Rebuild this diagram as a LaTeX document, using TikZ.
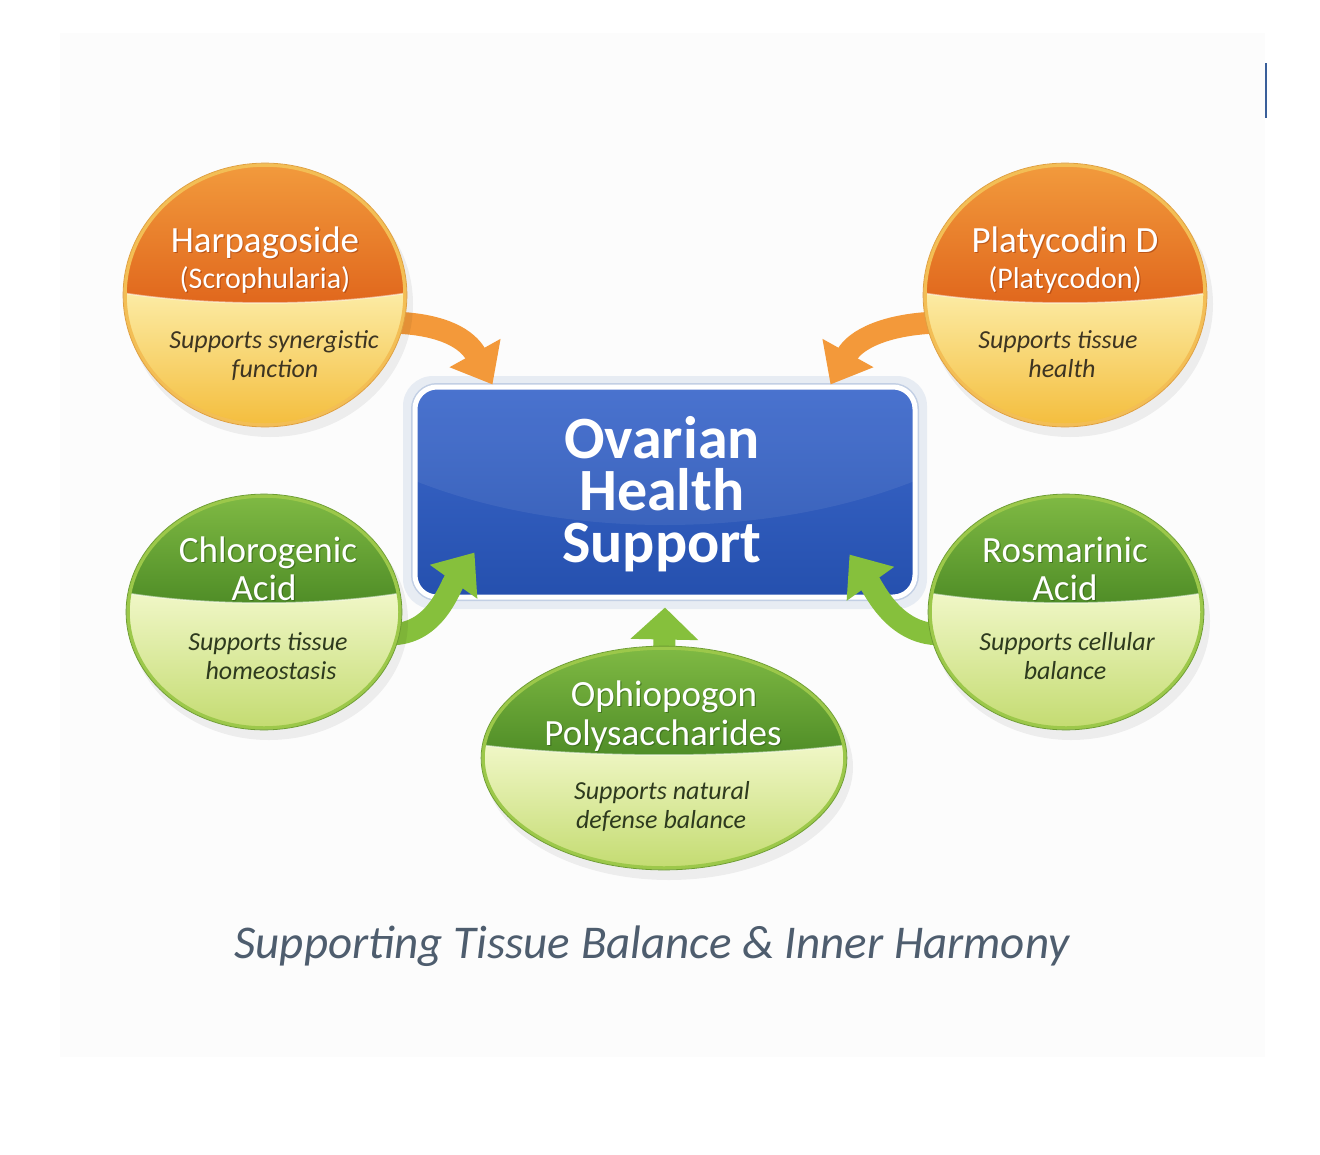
\documentclass[tikz,border=0pt]{standalone}
\usepackage{fontspec}
\setmainfont{Carlito}
\usetikzlibrary{shapes.geometric,arrows.meta,calc}
\pgfdeclarelayer{bg}
\pgfdeclarelayer{boxl}
\pgfdeclarelayer{arr}
\pgfsetlayers{bg,boxl,arr,main}
\definecolor{ortopA}{HTML}{F29B3D}
\definecolor{ortopB}{HTML}{E0661C}
\definecolor{orbotA}{HTML}{FCEDA8}
\definecolor{orbotB}{HTML}{F4BD3C}
\definecolor{oredge}{HTML}{F3BE55}
\definecolor{orrim}{HTML}{E0A040}
\definecolor{orsh}{HTML}{9A3A0C}
\definecolor{grtopA}{HTML}{80BA44}
\definecolor{grtopB}{HTML}{4E8C26}
\definecolor{grbotA}{HTML}{F2F8CA}
\definecolor{grbotB}{HTML}{C3DB70}
\definecolor{gredge}{HTML}{9CC84A}
\definecolor{grrim}{HTML}{6E9E32}
\definecolor{grsh}{HTML}{2E5A14}
\definecolor{boxtop}{HTML}{3D69CC}
\definecolor{boxbot}{HTML}{2550AE}
\definecolor{boxedge}{HTML}{C2CFE4}
\definecolor{arrowor}{HTML}{F3993A}
\definecolor{arrowgr}{HTML}{86C03C}
\definecolor{itor}{HTML}{3E3522}
\definecolor{itgr}{HTML}{2E3A1E}
\definecolor{footc}{HTML}{4E5D6E}
\definecolor{panel}{HTML}{FCFCFC}
\definecolor{markc}{HTML}{3A5F9A}
\tikzset{
  orarrow/.style={draw=arrowor, line width=22pt, -{Triangle[width=56pt,length=36pt]}},
  grarrow/.style={draw=arrowgr, line width=22pt, -{Triangle[width=56pt,length=36pt]}},
  titlefont/.style={font=\bfseries\fontsize{60}{52}\selectfont, text=white, align=center, inner sep=0pt},
}
\newcommand{\bubble}[7]{%
  \fill[black,opacity=0.06] (#2+5,#3+9) ellipse [x radius=#4+3, y radius=#5+3];
  \begin{scope}
    \clip (#2,#3) ellipse [x radius=#4, y radius=#5];
    \shade[top color=#7botA, bottom color=#7botB] (#2-#4-2,#6-15) rectangle (#2+#4+2,#3+#5+2);
    \shade[top color=#7topA, bottom color=#7topB] (#2-#4-2,#3-#5-2) -- (#2+#4+2,#3-#5-2) -- (#2+#4+2,#6-10) .. controls (#2+0.4*#4,#6+3.3) and (#2-0.4*#4,#6+3.3) .. (#2-#4-2,#6-10) -- cycle;
    \draw[white,opacity=0.5,line width=1.5pt] (#2+#4+2,#6-10) .. controls (#2+0.4*#4,#6+3.3) and (#2-0.4*#4,#6+3.3) .. (#2-#4-2,#6-10);
  \end{scope}
  \node[ellipse, draw=#7edge, line width=3.5pt, minimum width=2*#4, minimum height=2*#5, inner sep=0pt, outer sep=0pt] (#1) at (#2,#3) {};
  \draw[#7rim, line width=0.8pt] (#2,#3) ellipse [x radius=#4+1.9, y radius=#5+1.9];
}
\newcommand{\headline}[6]{%
  \node[font=\fontsize{#4}{#4}\selectfont, text=#5, opacity=0.55, anchor=base, inner sep=0pt] (#1s) at (#2+1.2,#3+1.8) {#6};
  \node[font=\fontsize{#4}{#4}\selectfont, text=white, anchor=base, inner sep=0pt] (#1) at (#2,#3) {#6};
}
\newcommand{\subline}[5]{%
  \node[font=\itshape\fontsize{26}{26}\selectfont, text=#4, anchor=base, inner sep=0pt] (#1) at (#2,#3) {#5};
}
\begin{document}
\begin{tikzpicture}[x=1pt,y=-1pt]
\useasboundingbox (0,0) rectangle (1320,1154);
\begin{pgfonlayer}{bg}
  \fill[white] (0,0) rectangle (1320,1154);
  \fill[panel] (60,33) rectangle (1265,1057);
  \draw[markc, line width=2pt] (1266,63) -- (1266,118);
\end{pgfonlayer}

% central box
\begin{pgfonlayer}{boxl}
  \fill[boxedge, opacity=0.35, rounded corners=30pt] (403,376) rectangle (927,609);
  \node[rectangle, rounded corners=22pt, minimum width=500pt, minimum height=210pt,
        top color=boxtop, bottom color=boxbot, draw=white, line width=5pt,
        preaction={draw=boxedge, line width=8pt}] (box) at (665,492) {};
  \begin{scope}
    \clip[rounded corners=20pt] (417,389) rectangle (913,595);
    \fill[white, opacity=0.07] (665,300) ellipse [x radius=420, y radius=225];
  \end{scope}
  \node[titlefont] (ttl) at (662,494) {Ovarian\\Health\\Support};
\end{pgfonlayer}

% bubbles
\bubble{harp}{265}{295}{140}{130}{303}{or}
\bubble{platy}{1065}{295}{140}{130}{303}{or}
\bubble{chl}{264}{612}{136}{116}{603}{gr}
\bubble{ros}{1066}{612}{136}{116}{603}{gr}
\bubble{oph}{664}{758}{181}{110}{755}{gr}

% bubble texts
\headline{harpA}{265}{252}{37}{orsh}{Harpagoside}
\headline{harpB}{265}{288}{30}{orsh}{(Scrophularia)}
\subline{harpC}{274}{348}{itor}{Supports synergistic}
\subline{harpD}{275}{377}{itor}{function}

\headline{platyA}{1065}{252}{37}{orsh}{Platycodin D}
\headline{platyB}{1065}{288}{30}{orsh}{(Platycodon)}
\subline{platyC}{1058}{348}{itor}{Supports tissue}
\subline{platyD}{1062}{377}{itor}{health}

\headline{chlA}{268}{562}{37}{grsh}{Chlorogenic}
\headline{chlB}{264}{600}{37}{grsh}{Acid}
\subline{chlC}{268}{650}{itgr}{Supports tissue}
\subline{chlD}{271}{679}{itgr}{homeostasis}

\headline{rosA}{1065}{562}{37}{grsh}{Rosmarinic}
\headline{rosB}{1065}{600}{37}{grsh}{Acid}
\subline{rosC}{1067}{650}{itgr}{Supports cellular}
\subline{rosD}{1065}{679}{itgr}{balance}

\headline{ophA}{664}{706}{37}{grsh}{Ophiopogon}
\headline{ophB}{663}{745}{37}{grsh}{Polysaccharides}
\subline{ophC}{662}{799}{itgr}{Supports natural}
\subline{ophD}{661}{828}{itgr}{defense balance}

% arrows
\begin{pgfonlayer}{arr}
  \draw[orarrow] ($(harp.center)!0.95!(harp.-12)$) .. controls +(50,2) and +(-25,-45) .. ($(box.north west)+(80,0)$);
  \draw[orarrow] ($(platy.center)!0.95!(platy.192)$) .. controls +(-50,2) and +(25,-45) .. ($(box.north east)+(-87,0)$);
  \draw[grarrow] ($(chl.center)!0.95!(chl.-10)$) .. controls +(45,0) and +(-25,35) .. ($(box.south west)+(62,-47)$);
  \draw[grarrow] ($(ros.center)!0.95!(ros.190)$) .. controls +(-45,0) and +(25,35) .. ($(box.south east)+(-68,-45)$);
  \draw[grarrow, -{Triangle[width=66pt,length=32pt]}] ($(oph.north)+(0,10)$) -- ($(box.south)+(0,8)$);
\end{pgfonlayer}

% footer
\node[font=\itshape\fontsize{47}{47}\selectfont, text=footc, anchor=base, inner sep=0pt] (foot) at (652,958) {Supporting Tissue Balance \& Inner Harmony};
\end{tikzpicture}
\end{document}
